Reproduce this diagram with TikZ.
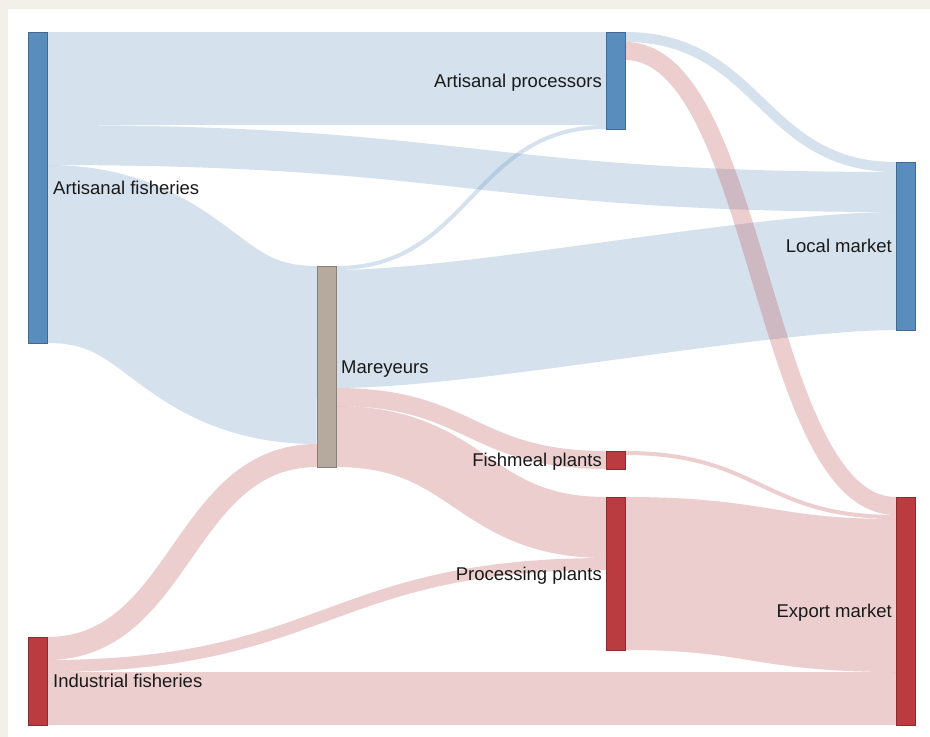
\documentclass[tikz,border=0pt]{standalone}
\usepackage{fontspec}
\setmainfont{Liberation Sans}
\usetikzlibrary{positioning}
\definecolor{fishblue}{HTML}{588DBE}
\definecolor{fishred}{HTML}{BA3C40}
\definecolor{mareyeur}{HTML}{B6AA9E}
\definecolor{framebg}{HTML}{F3EFE9}
\pgfdeclarelayer{frame}
\pgfdeclarelayer{flows}
\pgfsetlayers{frame,flows,main}

\begin{document}
\begin{tikzpicture}[
    x=1pt, y=-1pt,
    bar/.style={draw=#1!75!black, fill=#1, line width=0.5pt, anchor=north west,
                minimum width=19pt, inner sep=0pt, outer sep=0pt},
    flow/.style={draw=#1, draw opacity=0.25},
    lbl/.style={font=\fontsize{18.5}{22}\selectfont, text=black!90,
                inner sep=0pt, text height=13.2pt, text depth=0pt},
  ]
    % Frame
    \useasboundingbox (0,0) rectangle (930,737);
    \begin{pgfonlayer}{frame}
      \fill[framebg] (0,0) rectangle (930,737);
      \fill[white] (8,9) rectangle (930,737);
    \end{pgfonlayer}

    % Stages
    \node[bar=fishblue, minimum height=311pt] (af)  at (28,32)  {};
    \node[bar=fishred,  minimum height=88pt]  (inf) at (28,637) {};
    \node[bar=mareyeur, minimum height=201pt] (mar) at (317,266) {};
    \node[bar=fishblue, minimum height=97pt]  (ap)  at (606,32)  {};
    \node[bar=fishred,  minimum height=18pt]  (fm)  at (606,451) {};
    \node[bar=fishred,  minimum height=153pt] (pp)  at (606,497) {};
    \node[bar=fishblue, minimum height=168pt] (lm)  at (896,162) {};
    \node[bar=fishred,  minimum height=228pt] (exp) at (896,497) {};

    \begin{pgfonlayer}{flows}
    % Flows out of the fisheries
    \draw[flow=fishblue, line width=93pt] ([yshift=-46.5pt]af.north east)
        .. controls +(279.5,0) and +(-279.5,0) .. ([yshift=-46.5pt]ap.north west);
    \draw[flow=fishblue, line width=40pt] ([yshift=-113pt]af.north east)
        .. controls +(424.5,0) and +(-424.5,0) .. ([yshift=-30pt]lm.north west);
    \draw[flow=fishblue, line width=178pt] ([yshift=-222pt]af.north east)
        .. controls +(135,0) and +(-135,0) .. ([yshift=-89pt]mar.north west);
    \draw[flow=fishred, line width=23pt] ([yshift=-11.5pt]inf.north east)
        .. controls +(135,0) and +(-135,0) .. ([yshift=-189.5pt]mar.north west);
    \draw[flow=fishred, line width=12pt] ([yshift=-29pt]inf.north east)
        .. controls +(279.5,0) and +(-279.5,0) .. ([yshift=-67pt]pp.north west);
    \draw[flow=fishred, line width=53pt] ([yshift=-61.5pt]inf.north east)
        .. controls +(424.5,0) and +(-424.5,0) .. ([yshift=-201.5pt]exp.north west);

    % Flows out of the mareyeurs
    \draw[flow=fishblue, line width=4pt] ([yshift=-2pt]mar.north east)
        .. controls +(135,0) and +(-135,0) .. ([yshift=-95pt]ap.north west);
    \draw[flow=fishblue, line width=118pt] ([yshift=-63pt]mar.north east)
        .. controls +(135,0) and +(-135,0) .. ([yshift=-109pt]lm.north west);
    \draw[flow=fishred, line width=18pt] ([yshift=-131pt]mar.north east)
        .. controls +(135,0) and +(-135,0) .. ([yshift=-9pt]fm.north west);
    \draw[flow=fishred, line width=61pt] ([yshift=-170.5pt]mar.north east)
        .. controls +(135,0) and +(-135,0) .. ([yshift=-30.5pt]pp.north west);

    % Flows to the markets
    \draw[flow=fishblue, line width=10pt] ([yshift=-5pt]ap.north east)
        .. controls +(135,0) and +(-135,0) .. ([yshift=-5pt]lm.north west);
    \draw[flow=fishred, line width=18pt] ([yshift=-19pt]ap.north east)
        .. controls +(135,0) and +(-135,0) .. ([yshift=-9pt]exp.north west);
    \draw[flow=fishred, line width=4pt] ([yshift=-2pt]fm.north east)
        .. controls +(135,0) and +(-135,0) .. ([yshift=-20pt]exp.north west);
    \draw[flow=fishred, line width=153pt] ([yshift=-76.5pt]pp.north east)
        .. controls +(135,0) and +(-135,0) .. ([yshift=-98.5pt]exp.north west);
    \end{pgfonlayer}

    % Labels
    \node[lbl, right=6pt of af]  (aflbl)  {Artisanal fisheries};
    \node[lbl, right=6pt of inf] (inflbl) {Industrial fisheries};
    \node[lbl, right=5pt of mar] (marlbl) {Mareyeurs};
    \node[lbl, left=4pt of ap]   (aplbl)  {Artisanal processors};
    \node[lbl, left=4pt of fm]   (fmlbl)  {Fishmeal plants};
    \node[lbl, left=4pt of pp]   (pplbl)  {Processing plants};
    \node[lbl, left=4pt of lm]   (lmlbl)  {Local market};
    \node[lbl, left=4pt of exp]  (explbl) {Export market};
\end{tikzpicture}
\end{document}
